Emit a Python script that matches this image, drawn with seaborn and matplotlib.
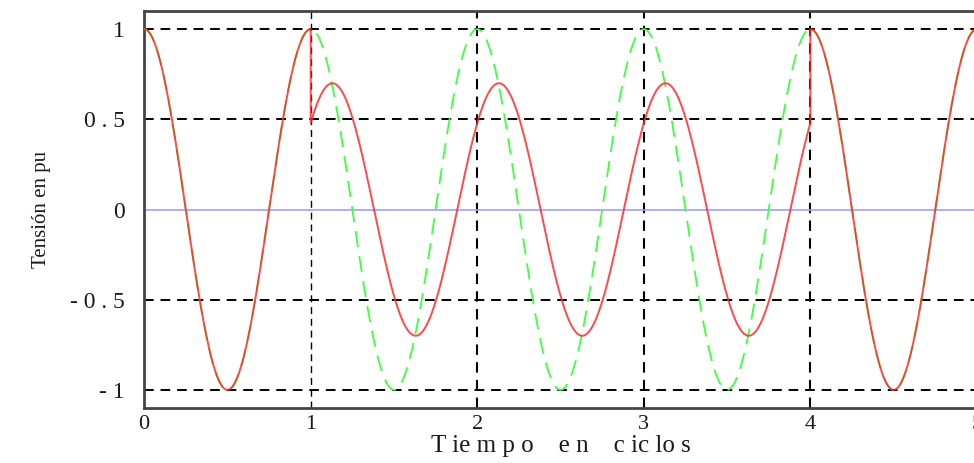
import numpy as np
import pandas as pd
import matplotlib
matplotlib.use('Agg')
import matplotlib.pyplot as plt
import seaborn as sns

# forma de onda (tiempo en ciclos, tensión en pu)
# tensión prefalla / postfalla: coseno de amplitud 1
ref_amplitud = 1.0
ref_desfase = 0.0
# tensión con hueco: tramos [inicio, fin), amplitud y desfase (en ciclos)
tramo_inicio = [0.0, 1.0, 4.0]
tramo_fin = [1.0, 4.0, 5.0]
tramo_amplitud = [1.0, 0.7, 1.0]
tramo_desfase = [0.0, 0.13, 0.0]

xticks = [0, 1, 2, 3, 4, 5]
yticks = [-1, -0.5, 0, 0.5, 1]
ytick_labels = ['- 1', '- 0 . 5', '0', '0 . 5', '1']
rejilla_y = [-1, -0.5, 0.5, 1]
rejilla_x = [1, 2, 3, 4]

# muestreo
t = np.linspace(0, 5, 2001)
ref = pd.DataFrame({'t': t, 'v': ref_amplitud * np.cos(2 * np.pi * (t - ref_desfase))})

partes = []
for a, b, amp, fi in zip(tramo_inicio, tramo_fin, tramo_amplitud, tramo_desfase):
    tt = np.linspace(a, b, 600)
    partes.append(pd.DataFrame({'t': tt, 'v': amp * np.cos(2 * np.pi * (tt - fi))}))
hueco = pd.concat(partes, ignore_index=True)

sns.set_style('white')
plt.rcParams['font.family'] = ['Liberation Serif', 'DejaVu Serif']

fig = plt.figure(figsize=(9.74, 4.63), dpi=100)
ax = fig.add_axes([0.148, 0.119, 0.855, 0.857])

# rejilla a trazos
for yv in rejilla_y:
    ax.axhline(yv, color='black', lw=1.4, ls=(0, (5, 3.5)), zorder=1)
for i, xv in enumerate(rejilla_x):
    ax.axvline(xv, color='black', lw=1.0 if i == 0 else 1.5, ls=(0, (5, 3.5)), zorder=1)
ax.axhline(0, color='#9f9fff', lw=1.2, zorder=2)

sns.lineplot(data=ref, x='t', y='v', ax=ax, color='#40ff40', lw=1.3,
             dashes=False, zorder=3, estimator=None, sort=False)
ax.lines[-1].set_linestyle((0, (9, 5)))
sns.lineplot(data=hueco, x='t', y='v', ax=ax, color='#ff2a2a', lw=1.4, alpha=0.85,
             zorder=4, estimator=None, sort=False)

ax.set_xlim(0, 5)
ax.set_ylim(-1.1, 1.1)
ax.set_xticks(xticks)
ax.set_yticks(yticks)
ax.set_yticklabels(ytick_labels)
ax.tick_params(axis='both', length=0, labelsize=16, colors='#1a1a1a', pad=5)
ax.tick_params(axis='y', pad=14, labelsize=17)

for s in ['left', 'bottom', 'top']:
    ax.spines[s].set_color('#444444')
    ax.spines[s].set_linewidth(2)
ax.spines['right'].set_visible(False)

ax.set_xlabel('T ie m p o    e n    c ic lo s', fontsize=18, color='#1a1a1a', labelpad=1)
ax.set_ylabel('Tensión en pu', fontsize=15, color='#1a1a1a', labelpad=14)

fig.savefig('out.png', dpi=100)
